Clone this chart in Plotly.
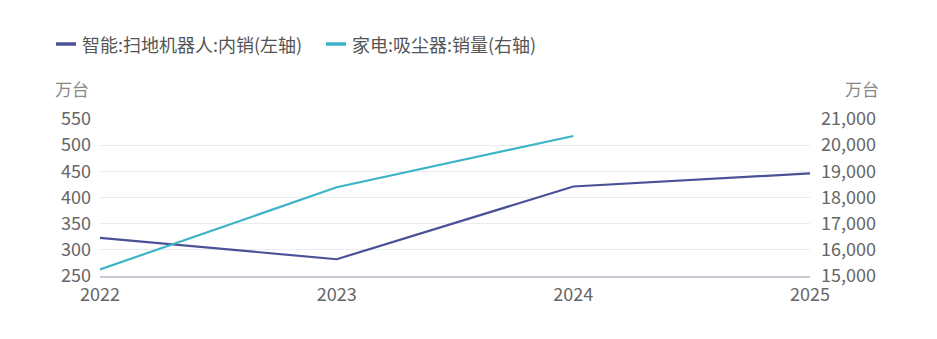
import plotly.graph_objects as go

# Category years and the two series
years = ["2022", "2023", "2024", "2025"]
robot_domestic = [323, 282, 421, 446]          # 扫地机器人 内销, 万台 (left axis)
vacuum_sales = [15250, 18390, 20350, None]     # 吸尘器 销量, 万台 (right axis)

left_ticks = [250, 300, 350, 400, 450, 500, 550]
right_ticks = [15000, 16000, 17000, 18000, 19000, 20000, 21000]

series_names = ["智能:扫地机器人:内销(左轴)", "家电:吸尘器:销量(右轴)"]

ROBOT_COLOR = "#4B5197"
VACUUM_COLOR = "#3CB4C8"
TEXT_COLOR = "#666666"
GRID_COLOR = "#EBEBF2"
FONT = "Noto Sans CJK SC"

W, H = 937, 339
L, R, T, B = 100, 127, 119, 63
PW, PH = W - L - R, H - T - B


def px_x(px):
    """Pixel column -> paper x."""
    return (px - L) / PW


def px_y(py):
    """Pixel row (from top) -> paper y."""
    return (H - B - py) / PH


fig = go.Figure()
fig.add_trace(go.Scatter(
    x=years, y=robot_domestic, mode="lines", name=series_names[0],
    line=dict(color=ROBOT_COLOR, width=2.2), yaxis="y", showlegend=False,
))
fig.add_trace(go.Scatter(
    x=years, y=vacuum_sales, mode="lines", name=series_names[1],
    line=dict(color=VACUUM_COLOR, width=2.2), yaxis="y2", showlegend=False,
))

# Compact legend: short thick dash + label for each series
legend_items = [(56, series_names[0], ROBOT_COLOR), (326, series_names[1], VACUUM_COLOR)]
shapes, annotations = [], []
for x0, label, color in legend_items:
    shapes.append(dict(type="line", xref="paper", yref="paper",
                       x0=px_x(x0), x1=px_x(x0 + 20), y0=px_y(44), y1=px_y(44),
                       line=dict(color=color, width=3.5)))
    annotations.append(dict(text=label, xref="paper", yref="paper",
                            x=px_x(x0 + 24), y=px_y(44), xanchor="left", yanchor="middle",
                            showarrow=False,
                            font=dict(family=FONT, size=18, color="#555555")))

# Unit labels above each value axis
annotations.append(dict(text="万台", xref="paper", yref="paper", x=px_x(91), y=px_y(88),
                        xanchor="right", yanchor="middle", showarrow=False,
                        font=dict(family=FONT, size=17, color="#888888")))
annotations.append(dict(text="万台", xref="paper", yref="paper", x=px_x(881), y=px_y(88),
                        xanchor="right", yanchor="middle", showarrow=False,
                        font=dict(family=FONT, size=17, color="#888888")))

fig.update_layout(
    width=W, height=H,
    margin=dict(l=L, r=R, t=T, b=B),
    paper_bgcolor="white", plot_bgcolor="white",
    font=dict(family=FONT, size=18, color=TEXT_COLOR),
    showlegend=False,
    xaxis=dict(
        type="category", range=[0, 3], showgrid=False,
        showline=True, linecolor="#C9C9D6", linewidth=1.5,
        ticks="", tickfont=dict(size=18, color=TEXT_COLOR),
        zeroline=False, ticklabelstandoff=2,
    ),
    yaxis=dict(
        range=[250, 550], tickvals=left_ticks,
        showgrid=True, gridcolor=GRID_COLOR, gridwidth=1,
        zeroline=False, showline=False, ticks="",
        tickfont=dict(size=18, color=TEXT_COLOR),
        ticklabelstandoff=8,
    ),
    yaxis2=dict(
        range=[15000, 21000], tickvals=right_ticks, tickformat=",d",
        overlaying="y", side="right",
        showgrid=False, zeroline=False, showline=False, ticks="",
        tickfont=dict(size=18, color=TEXT_COLOR),
        ticklabelstandoff=10,
    ),
    shapes=shapes,
    annotations=annotations,
)

fig.write_html("out.html")
